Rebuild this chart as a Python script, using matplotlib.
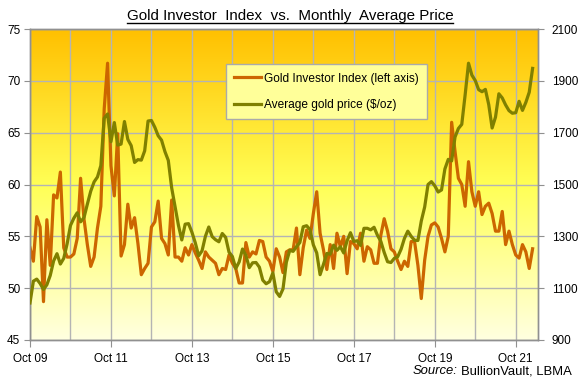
import matplotlib
matplotlib.use('Agg')
import matplotlib.pyplot as plt
import numpy as np
from matplotlib.colors import LinearSegmentedColormap
from matplotlib.lines import Line2D

# monthly, Oct 2009 .. Mar 2022
investor_index = [
    53.9, 52.6, 56.9, 55.9, 48.7, 56.6, 52.2, 59.0, 58.7, 61.2,
    53.9, 53.0, 53.0, 53.3, 54.8, 60.6, 56.7, 54.2, 52.1, 53.0,
    55.8, 57.9, 67.3, 71.7, 61.8, 58.9, 64.9, 53.1, 54.2, 58.1,
    55.8, 56.8, 54.3, 51.3, 51.9, 52.4, 55.9, 56.4, 58.4, 54.8,
    54.3, 53.2, 58.5, 53.0, 53.0, 52.6, 53.9, 53.2, 54.2, 53.4,
    52.7, 51.9, 53.5, 53.0, 52.7, 52.4, 51.3, 51.9, 51.8, 53.2,
    52.4, 51.9, 50.5, 50.5, 54.4, 53.0, 53.5, 53.3, 54.6, 54.5,
    53.0, 52.6, 51.6, 53.8, 53.0, 51.5, 53.5, 53.7, 53.7, 55.8,
    51.3, 53.9, 55.6, 54.8, 57.2, 59.3, 55.3, 53.7, 51.8, 54.2,
    51.9, 55.3, 54.0, 55.0, 51.4, 54.5, 54.3, 53.8, 55.3, 52.6,
    54.0, 53.7, 52.4, 52.4, 55.1, 56.7, 55.5, 53.8, 53.5, 52.6,
    51.8, 52.6, 52.1, 54.5, 54.5, 52.2, 49.0, 52.7, 55.0, 56.1,
    56.3, 55.9, 54.8, 53.5, 55.0, 66.0, 63.2, 60.6, 60.0, 57.9,
    62.2, 59.3, 57.9, 59.3, 57.1, 57.9, 58.2, 57.2, 55.5, 55.5,
    57.4, 54.2, 55.5, 54.2, 53.2, 52.9, 54.2, 53.5, 51.9, 53.8,
]

gold_price = [
    1043, 1127, 1135,
    1118, 1095, 1113, 1149, 1205, 1233, 1193, 1215, 1271, 1342, 1370, 1391,
    1356, 1372, 1424, 1474, 1510, 1529, 1573, 1756, 1772, 1665, 1739, 1652,
    1656, 1743, 1674, 1650, 1585, 1596, 1594, 1630, 1745, 1747, 1721, 1688,
    1671, 1627, 1593, 1487, 1414, 1343, 1286, 1347, 1349, 1316, 1275, 1225,
    1244, 1300, 1336, 1299, 1287, 1279, 1311, 1296, 1239, 1222, 1176, 1201,
    1251, 1227, 1179, 1198, 1199, 1181, 1131, 1117, 1125, 1159, 1086, 1068,
    1097, 1200, 1246, 1242, 1260, 1276, 1337, 1341, 1326, 1267, 1236, 1152,
    1192, 1234, 1231, 1266, 1246, 1260, 1236, 1283, 1314, 1280, 1283, 1265,
    1331, 1331, 1325, 1335, 1304, 1281, 1238, 1202, 1199, 1215, 1221, 1250,
    1292, 1320, 1300, 1285, 1284, 1359, 1413, 1500, 1511, 1495, 1471, 1479,
    1560, 1597, 1591, 1683, 1716, 1732, 1846, 1968, 1922, 1901, 1866, 1858,
    1867, 1808, 1718, 1760, 1850, 1834, 1807, 1785, 1775, 1777, 1821, 1786,
    1817, 1856, 1948,
]

tick_labels = ['Oct 09', 'Oct 11', 'Oct 13', 'Oct 15', 'Oct 17', 'Oct 19', 'Oct 21']
left_ticks = [45, 50, 55, 60, 65, 70, 75]
right_ticks = [900, 1100, 1300, 1500, 1700, 1900, 2100]

plt.rcParams['font.family'] = ['Liberation Sans', 'DejaVu Sans']

orange = '#CC6600'
olive = '#808000'
grid_c = '#B4B4B4'
spine_c = '#909090'
txt_c = '#000000'

W, H = 578, 381
fig = plt.figure(figsize=(W / 100, H / 100), dpi=100)
ax = fig.add_axes([30 / W, 41 / H, 508 / W, 311 / H])

months = np.arange(len(investor_index))
x0, x1 = 0, 150.6

# background gradient
cmap = LinearSegmentedColormap.from_list('bg', [(0, '#FFC000'), (0.5, '#FFFF55'), (1, '#FFFFE0')])
grad = np.linspace(0, 1, 256).reshape(-1, 1)
ax.imshow(grad, cmap=cmap, extent=[x0, x1, 45, 75], aspect='auto', origin='upper', zorder=0)

ax.plot(months, investor_index, color=orange, lw=2.3, zorder=3, solid_joinstyle='round')
ax.set_xlim(x0, x1)
ax.set_ylim(45, 75)
ax.set_yticks(left_ticks)
ax.set_xticks(range(0, 150, 24))
ax.set_xticklabels(tick_labels)
ax.set_xticks(range(12, 150, 24), minor=True)
ax.grid(True, which='both', color=grid_c, lw=1)
ax.tick_params(axis='x', which='major', length=5, color=spine_c, labelsize=8.5, pad=4, labelcolor=txt_c)
ax.tick_params(axis='x', which='minor', length=0)
ax.tick_params(axis='y', length=4, color=spine_c, labelsize=8.5, pad=3, labelcolor=txt_c)

ax2 = ax.twinx()
ax2.plot(months, gold_price, color=olive, lw=2.3, zorder=3, solid_joinstyle='round')
ax2.set_ylim(900, 2100)
ax2.set_yticks(right_ticks)
ax2.tick_params(axis='y', length=4, color=spine_c, labelsize=8.5, pad=6, labelcolor=txt_c)

for a in (ax, ax2):
    for s in a.spines.values():
        s.set_color(spine_c)
        s.set_linewidth(1)

handles = [Line2D([], [], color=orange, lw=2.3), Line2D([], [], color=olive, lw=2.3)]
leg = ax2.legend(handles, ['Gold Investor Index (left axis)', 'Average gold price ($/oz)'],
                 loc='upper left', bbox_to_anchor=(0.386, 0.887), fontsize=8.6,
                 frameon=True, fancybox=False, facecolor='#FFFF99', edgecolor='#AAAAAA',
                 framealpha=1, handlelength=2.25, handletextpad=0.2, labelspacing=1.2,
                 borderpad=0.7, borderaxespad=0)
leg.get_frame().set_linewidth(1)
for t in leg.get_texts():
    t.set_color(txt_c)

title = fig.text(290 / W, 1 - 20 / H, 'Gold Investor  Index  vs.  Monthly  Average Price',
                 ha='center', va='baseline', fontsize=10.9, color=txt_c)

src = fig.text(572 / W, 1 - 371 / H, 'BullionVault, LBMA', ha='right', va='center',
               fontsize=9.4, color=txt_c)
fig.canvas.draw()
renderer = fig.canvas.get_renderer()
bb = title.get_window_extent(renderer)
fig.add_artist(Line2D([bb.x0 / W, bb.x1 / W], [1 - 23 / H, 1 - 23 / H], color=txt_c, lw=1))
sb = src.get_window_extent(renderer)
fig.text((sb.x0 - 4) / W, 1 - 371 / H, 'Source:', ha='right', va='center',
         fontsize=9.4, style='italic', color=txt_c)

fig.savefig('out.png', dpi=100)
